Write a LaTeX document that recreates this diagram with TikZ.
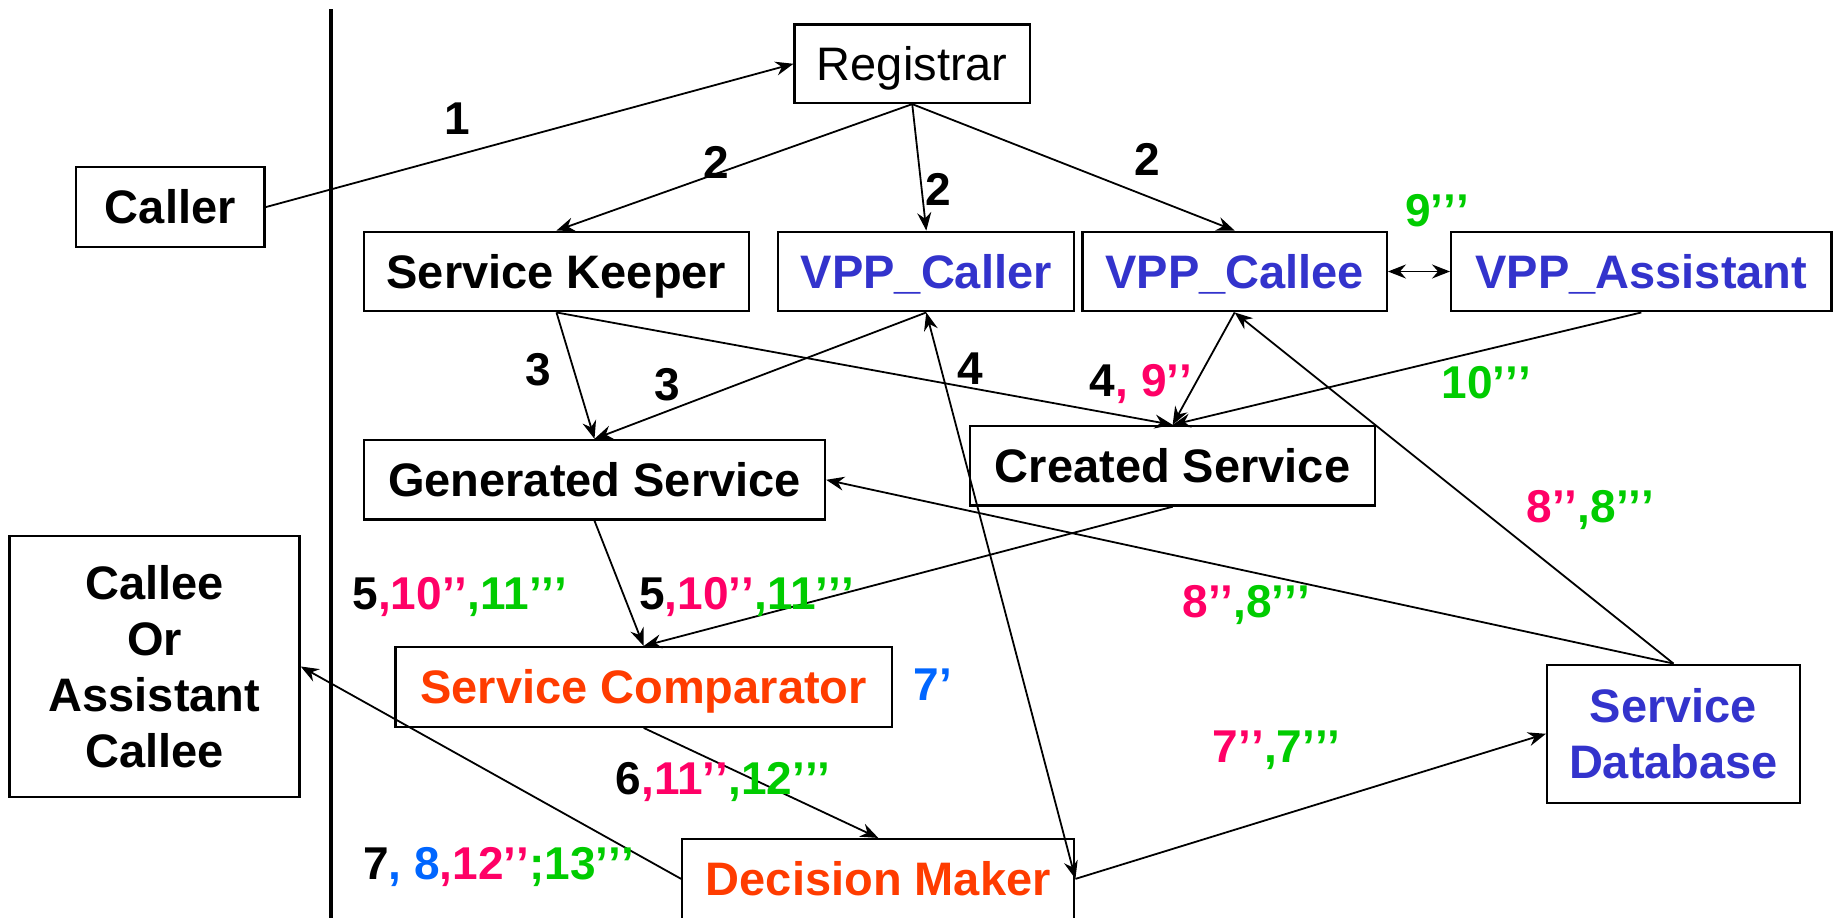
\documentclass[tikz,border=0pt]{standalone}
\usepackage{fontspec}
\setmainfont{Liberation Sans}
\usetikzlibrary{arrows.meta,calc}
\definecolor{vblue}{RGB}{51,51,204}
\definecolor{vorange}{RGB}{255,60,0}
\definecolor{vpink}{RGB}{255,0,102}
\definecolor{vgreen}{RGB}{0,204,0}
\definecolor{lblue}{RGB}{0,102,255}
\newcommand{\qa}{’}
\newcommand{\qb}{’\kern0pt’}
\newcommand{\qc}{’\kern0pt’\kern0pt’}
\tikzset{
  box/.style={draw=black, line width=2.3pt, inner sep=0pt, align=center,
    font=\bfseries\fontsize{47}{56}\selectfont},
  onel/.style={text height=33.7pt, text depth=0pt},
  lbl/.style={inner sep=0pt, font=\bfseries\fontsize{46}{52}\selectfont},
  conn/.style={line width=1.8pt, -{Stealth[length=18pt,width=14pt,inset=6pt]}},
  dconn/.style={line width=1.8pt, {Stealth[length=18pt,width=14pt,inset=6pt]}-{Stealth[length=18pt,width=14pt,inset=6pt]}}
}
\begin{document}
\begin{tikzpicture}[x=1.1703pt,y=-1.1703pt]
\useasboundingbox (0,0) rectangle (1568,784);
\clip (0,0) rectangle (1568,784);
\fill[white] (0,0) rectangle (1568,784);
% divider
\draw[line width=4pt] (283,8) -- (283,790);
% nodes
\node[box, onel, minimum width=188.4pt, minimum height=79.6pt] (caller) at (145.5,177) {Caller};
\node[box, onel, font=\fontsize{47}{56}\selectfont, minimum width=235.2pt, minimum height=78.4pt] (reg) at (779.5,54.5) {Registrar};
\node[box, onel, minimum width=385pt, minimum height=79.6pt] (sk) at (475.5,232) {Service Keeper};
\node[box, onel, text=vblue, minimum width=296.1pt, minimum height=79.6pt] (vc) at (791.5,232) {VPP\_Caller};
\node[box, onel, text=vblue, minimum width=304.3pt, minimum height=79.6pt] (vce) at (1055,232) {VPP\_Callee};
\node[box, onel, text=vblue, minimum width=380.3pt, minimum height=79.6pt] (va) at (1402.5,232) {VPP\_Assistant};
\node[box, onel, minimum width=461.1pt, minimum height=79.6pt] (gs) at (508,410) {Generated Service};
\node[box, onel, minimum width=404.9pt, minimum height=79.6pt] (cs) at (1002,398) {Created Service};
\node[box, minimum width=290.2pt, minimum height=261pt] (callee) at (132,569.5) {Callee\\Or\\Assistant\\Callee};
\node[box, onel, text=vorange, minimum width=496.2pt, minimum height=79.6pt] (scomp) at (550,587) {Service Comparator};
\node[box, text=vblue, minimum width=252.8pt, minimum height=138.1pt] (sd) at (1430,627) {Service\\Database};
\node[box, onel, text=vorange, minimum width=392pt, minimum height=79.6pt] (dm) at (750.5,751) {Decision Maker};
% connectors
\draw[conn] (caller.east) -- (reg.west);
\draw[conn] (reg.south) -- (sk.north);
\draw[conn] (reg.south) -- (vc.north);
\draw[conn] (reg.south) -- (vce.north);
\draw[dconn] (vce.east) -- (va.west);
\draw[conn] (sk.south) -- (gs.north);
\draw[conn] (vc.south) -- (gs.north);
\draw[conn] (sk.south) -- (cs.north);
\draw[conn] (vce.south) -- (cs.north);
\draw[conn] (va.south) -- (cs.north);
\draw[dconn] (vc.south) -- (dm.east);
\draw[conn] (sd.north) -- (gs.east);
\draw[conn] (sd.north) -- (vce.south);
\draw[conn] (gs.south) -- (scomp.north);
\draw[conn] (cs.south) -- (scomp.north);
\draw[conn] (scomp.south) -- (dm.north);
\draw[conn] (dm.west) -- (callee.east);
\draw[conn] (dm.east) -- (sd.west);
% labels
\node[lbl] (l1) at (391,101) {1};
\node[lbl] (l2a) at (612,139) {2};
\node[lbl] (l2b) at (802,162) {2};
\node[lbl] (l2c) at (980,136) {2};
\node[lbl, text=vgreen] (l9) at (1228,180) {9\qc};
\node[lbl] (l3a) at (460,316) {3};
\node[lbl] (l3b) at (570,329) {3};
\node[lbl] (l4) at (829,315) {4};
\node[lbl] (l49) at (975,328) {4\textcolor{vpink}{, 9\qb}};
\node[lbl, text=vgreen] (l10) at (1270,327) {10\qc};
\node[lbl] (l8a) at (1359,436) {\textcolor{vpink}{8\qb}\textcolor{vgreen}{,8\qc}};
\node[lbl] (l8b) at (1065,517) {\textcolor{vpink}{8\qb}\textcolor{vgreen}{,8\qc}};
\node[lbl] (l5a) at (393,510) {5\textcolor{vpink}{,10\qb}\textcolor{vgreen}{,11\qc}};
\node[lbl] (l5b) at (638,510) {5\textcolor{vpink}{,10\qb}\textcolor{vgreen}{,11\qc}};
\node[lbl, text=lblue] (l7p) at (797,585) {7\qa};
\node[lbl] (l7b) at (1091,641) {\textcolor{vpink}{7\qb}\textcolor{vgreen}{,7\qc}};
\node[lbl] (l6) at (618,668) {6\textcolor{vpink}{,11\qb}\textcolor{vgreen}{ ,12\qc}};
\node[lbl] (l7) at (426,741) {7\textcolor{lblue}{, 8}\textcolor{vpink}{,12\qb}\textcolor{vgreen}{;13\qc}};
\end{tikzpicture}
\end{document}
